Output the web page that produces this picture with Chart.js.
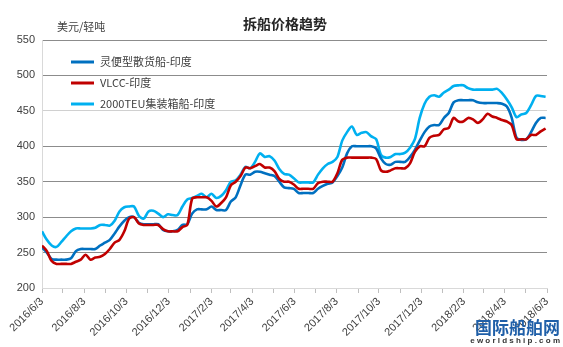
<!DOCTYPE html>
<html>
<head>
<meta charset="utf-8">
<script src="https://cdn.jsdelivr.net/npm/chart.js@4.4.0/dist/chart.umd.min.js"></script>
<style>
  body { margin: 0; background: #fff; }
</style>
</head>
<body>
<canvas id="chart" width="563" height="347"></canvas>
<script>
    // weekly readings, first week = 2016/6/3
    const startDate = '2016-06-03';
    const tickLabels = ['2016/6/3','2016/8/3','2016/10/3','2016/12/3','2017/2/3','2017/4/3','2017/6/3',
                        '2017/8/3','2017/10/3','2017/12/3','2018/2/3','2018/4/3','2018/6/3'];
    const yTicks = [200, 250, 300, 350, 400, 450, 500, 550];

    const seriesNames = ['灵便型散货船-印度', 'VLCC-印度', '2000TEU集装箱船-印度'];
    const seriesColors = ['#0070c0', '#c00000', '#00b0f0'];

    const handysize = [257,250,241,240,240,240,242,252,255,255,255,255,260,264,268,277,287,295,300,300,
        292,290,290,290,290,282,280,280,282,289,290,305,311,311,311,315,310,310,310,322,
        328,345,360,360,364,364,362,360,358,350,342,341,340,334,334,334,334,340,344,347,
        349,358,370,390,400,400,400,400,400,397,383,375,374,378,378,378,385,395,408,420,
        428,430,430,440,447,462,465,465,465,465,462,461,461,461,461,460,456,440,412,409,
        410,420,433,440,440];
    const vlcc = [260,252,238,234,234,234,234,237,240,247,240,243,244,248,255,264,268,280,298,300,
        291,289,289,289,289,283,280,280,280,286,289,326,328,328,328,323,315,320,328,345,
        350,358,370,369,372,375,370,370,365,354,350,350,346,340,340,340,340,348,350,350,
        350,362,381,384,384,384,384,384,384,382,366,364,366,369,369,369,376,392,400,400,
        412,415,416,424,426,440,435,435,440,438,433,438,446,442,440,437,435,430,410,410,
        410,416,416,421,425];
    const teu2000 = [280,268,260,258,265,273,280,284,284,284,284,285,289,289,288,295,308,314,315,315,
        302,298,308,309,305,300,304,303,303,315,325,327,330,333,328,333,327,330,338,350,
        352,360,371,369,378,390,385,386,380,368,361,360,355,349,349,349,349,360,369,375,
        378,385,408,420,428,416,419,420,414,410,388,384,385,389,389,391,398,410,440,460,
        470,472,470,476,480,485,486,486,482,480,480,480,480,480,481,475,466,455,441,445,
        447,458,471,471,470];

    const dayMs = 24 * 3600 * 1000;
    const t0 = Date.parse(startDate + 'T00:00:00Z');

    // days from start for a 'yyyy/m/d' string
    let dayOf = (s) => {
        let [y, m, d] = s.split('/').map(Number);
        return Math.round((Date.UTC(y, m - 1, d) - t0) / dayMs);
    };

    let toPoints = (arr) => arr.map((v, i) => ({ x: i * 7, y: v }));

    // monthly tick marks, label on every second one
    const monthTicks = [];
    const labelAt = {};
    for (let k = 0; k <= 24; k++) {
        let y = 2016 + Math.floor((5 + k) / 12);
        let m = (5 + k) % 12 + 1;
        let s = y + '/' + m + '/3';
        monthTicks.push(dayOf(s));
        if (tickLabels.includes(s)) labelAt[dayOf(s)] = s;
    }

    const FONT = '"Liberation Sans", Arial, "Noto Sans CJK SC", sans-serif';

    // title, unit, legend and watermark
    const extras = {
        id: 'extras',
        afterDraw(chart) {
            const ctx = chart.ctx;
            ctx.save();
            ctx.fillStyle = '#262626';
            ctx.font = 'bold 14px "Noto Sans CJK SC", sans-serif';
            ctx.textAlign = 'center';
            ctx.textBaseline = 'middle';
            ctx.fillText('拆船价格趋势', 285, 24);

            ctx.font = '11px "Noto Sans CJK SC", sans-serif';
            ctx.fillStyle = '#404040';
            ctx.textAlign = 'left';
            ctx.fillText('美元/轻吨', 57, 27);

            const rows = [62, 83, 104];
            seriesNames.forEach((name, i) => {
                ctx.strokeStyle = seriesColors[i];
                ctx.lineWidth = 3;
                ctx.beginPath();
                ctx.moveTo(71, rows[i]);
                ctx.lineTo(94, rows[i]);
                ctx.stroke();
                ctx.fillStyle = '#404040';
                ctx.font = '11px "Noto Sans CJK SC", sans-serif';
                ctx.fillText(name, 100, rows[i]);
            });

            // site mark in corner
            ctx.fillStyle = '#1f5fa8';
            ctx.font = 'bold 17px "Noto Sans CJK SC", sans-serif';
            ctx.textAlign = 'right';
            ctx.fillText('国际船舶网', 560, 328);
            ctx.font = 'bold 8px ' + FONT;
            ctx.fillStyle = '#333';
            ctx.fillText('e w o r l d s h i p . c o m', 560, 341);
            ctx.restore();
        }
    };

    let makeSet = (i, arr) => ({
        label: seriesNames[i],
        data: toPoints(arr),
        borderColor: seriesColors[i],
        backgroundColor: seriesColors[i],
        borderWidth: 2.6,
        pointRadius: 0,
        tension: 0.3,
        order: i === 1 ? 0 : (i === 0 ? 1 : 2)
    });

    const ctx = document.getElementById('chart');
    const myChart = new Chart(ctx, {
        type: 'line',
        data: {
            datasets: [makeSet(2, teu2000), makeSet(0, handysize), makeSet(1, vlcc)]
        },
        options: {
            responsive: false,
            animation: false,
            layout: { padding: { top: 40, right: 16, left: 0, bottom: 0 } },
            plugins: {
                legend: { display: false },
                title: { display: false },
                tooltip: { enabled: false }
            },
            scales: {
                x: {
                    type: 'linear',
                    min: 0,
                    max: 730,
                    afterBuildTicks: (scale) => {
                        scale.ticks = monthTicks.map(v => ({ value: v }));
                    },
                    afterFit: (scale) => { scale.height = 59; },
                    ticks: {
                        autoSkip: false,
                        maxRotation: 45,
                        minRotation: 45,
                        color: '#404040',
                        font: { size: 11, family: FONT },
                        padding: 2,
                        callback: (v) => labelAt[v] || ''
                    },
                    grid: {
                        drawOnChartArea: false,
                        tickLength: 5,
                        color: '#bfbfbf'
                    },
                    border: { color: '#d9d9d9' }
                },
                y: {
                    min: 200,
                    max: 550,
                    afterBuildTicks: (scale) => {
                        scale.ticks = yTicks.map(v => ({ value: v }));
                    },
                    afterFit: (scale) => { scale.width = 42; },
                    ticks: {
                        color: '#404040',
                        font: { size: 11, family: FONT },
                        padding: 7
                    },
                    grid: {
                        drawTicks: false,
                        color: (c) => (c.tick.value === 200 ? '#d9d9d9' : (c.tick.value === 450 ? '#d0d0d0' : '#8c8c8c'))
                    },
                    border: { color: '#d9d9d9' }
                }
            }
        },
        plugins: [extras]
    });
</script>
</body>
</html>
